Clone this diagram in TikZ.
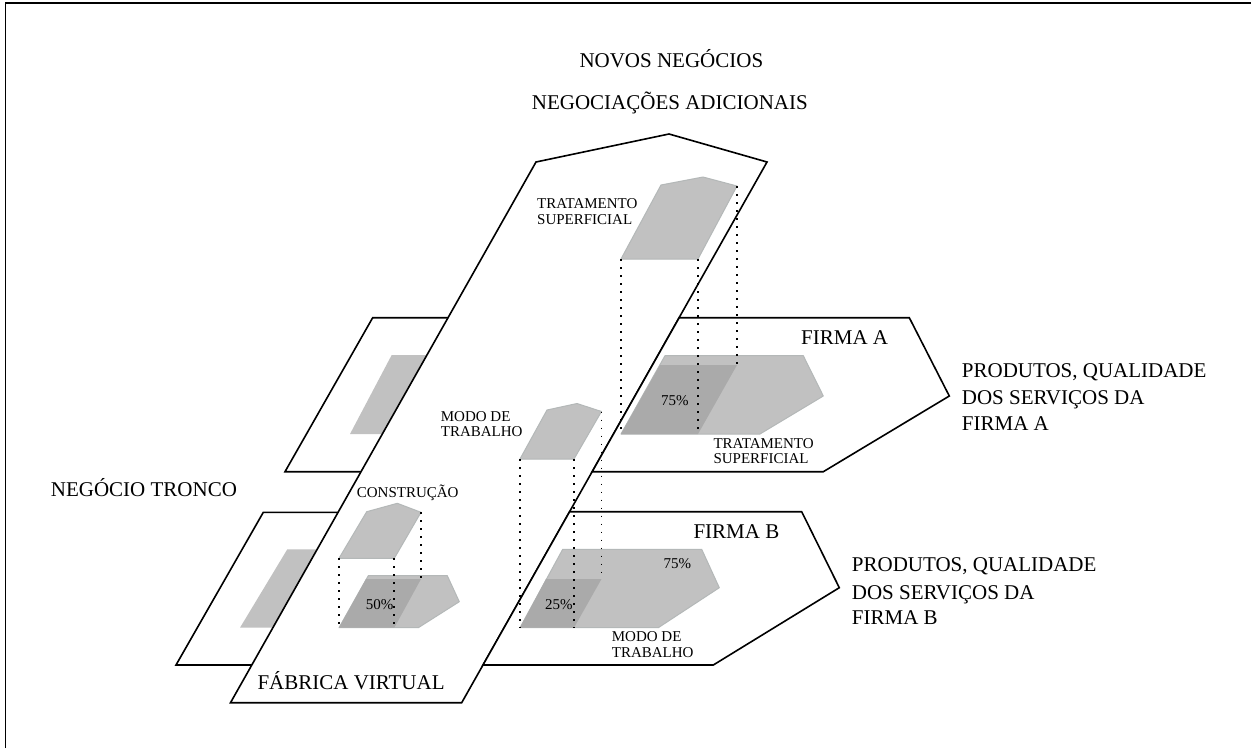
\documentclass[tikz,border=0pt]{standalone}
\usepackage{fontspec}
\setmainfont{Liberation Serif}
\definecolor{lg}{RGB}{193,193,193}
\definecolor{dg}{RGB}{170,170,170}
\definecolor{gb}{RGB}{180,184,184}
\begin{document}
\begin{tikzpicture}[x=1pt,y=-1pt,
  plane/.style={draw=black,fill=white,line width=1.6pt,line join=miter},
  lgray/.style={fill=lg,draw=gb,line width=1pt,line join=round},
  dgray/.style={fill=dg},
  dots/.style={line width=1.8pt,dash pattern=on 1.8pt off 6.2pt},
  big/.style={font=\fontsize{21}{25}\selectfont,anchor=base west,inner sep=0pt},
  small/.style={font=\fontsize{15}{16}\selectfont,anchor=base west,inner sep=0pt}]
\useasboundingbox (0,0) rectangle (1251,748);
% frame
\draw[line width=1.7pt] (5.5,748) -- (5.5,3) -- (1251,3);

% back planes (negocio tronco)
\draw[plane] (372.7,317.7) -- (522,317.7) -- (435,471.7) -- (285,471.7) -- cycle;
\fill[lg] (391.7,355) -- (452,355) -- (410,434) -- (350,434) -- cycle;
\draw[plane] (263.3,512.3) -- (413,512.3) -- (326,665) -- (176,665) -- cycle;
\fill[lg] (287.3,549.3) -- (347,549.3) -- (300,627.7) -- (240,627.7) -- cycle;

% fabrica virtual
\draw[plane] (536,162) -- (669,134) -- (767,162) -- (461.7,702.7) -- (230.5,702.7) -- cycle;

% firms
\draw[plane] (679.2,317.7) -- (909.3,317.7) -- (949.3,396) -- (823.3,471.7) -- (592.2,471.7) -- cycle;
\draw[plane] (569.6,511.7) -- (801.7,511.7) -- (839.3,587.7) -- (713.3,665) -- (483,665) -- cycle;

% gray shapes on fabrica virtual
\draw[lgray] (621,259) coordinate (t1) -- (698,259) coordinate (t2) -- (737,186) coordinate (t3) -- (703,177) -- (661,185) -- cycle;
\draw[lgray] (520,459) coordinate (m1) -- (574,459) coordinate (m2) -- (601.5,411.5) coordinate (m3) -- (577,403.5) -- (547,410) -- cycle;
\draw[lgray] (339,558.3) coordinate (c1) -- (394.3,558.3) coordinate (c2) -- (421,512.3) coordinate (c3) -- (397.3,503.3) -- (366.7,511.7) -- cycle;
\draw[lgray] (339,627.7) -- (368.3,575.7) -- (447.3,575.7) -- (459.3,601.7) -- (418.3,627.7) -- cycle;
\fill[dgray] (339,627.7) coordinate (c4) -- (394.3,627.7) coordinate (c5) -- (421,579) coordinate (c6) -- (366,579) -- cycle;

% gray shapes on firm A
\draw[lgray] (621,434) -- (665,355.7) -- (803.3,355.7) -- (823.3,396) -- (760,434) -- cycle;
\fill[dgray] (621,434) coordinate (a1) -- (698,434) coordinate (a2) -- (737,365) coordinate (a3) -- (660,365) -- cycle;

% gray shapes on firm B
\draw[lgray] (520,627.7) -- (562.7,549.3) -- (701.7,549.3) -- (719.3,587.7) -- (658.3,627.7) -- cycle;
\fill[dgray] (520,627.7) coordinate (b1) -- (574,627.7) coordinate (b2) -- (601.5,579) coordinate (b3) -- (546,579) -- cycle;

% dotted projections
\draw[dots] (t1) -- (a1);
\draw[dots] (t2) -- (a2);
\draw[dots] (t3) -- (a3);
\draw[dots] (m1) -- (b1);
\draw[dots] (m2) -- (b2);
\draw[dots] (m3) -- (b3);
\draw[dots] (c1) -- (c4);
\draw[dots] (c2) -- (c5);
\draw[dots] (c3) -- (c6);

% texts
\node[big] (novos) at (579.3,67.5) {NOVOS NEGÓCIOS};
\node[big] (negoc) at (531.7,109.3) {NEGOCIAÇÕES ADICIONAIS};
\node[big] (tronco) at (50.7,496.7) {NEGÓCIO TRONCO};
\node[big] (fabrica) at (257.3,689.3) {FÁBRICA VIRTUAL};
\node[big] (firmaA) at (801,344) {FIRMA A};
\node[big] (firmaB) at (693.3,538.3) {FIRMA B};
\node[big] (pa1) at (961.7,377.7) {PRODUTOS, QUALIDADE};
\node[big] (pa2) at (961.7,404.3) {DOS SERVIÇOS DA};
\node[big] (pa3) at (961.7,430) {FIRMA A};
\node[big] (pb1) at (851.7,571.7) {PRODUTOS, QUALIDADE};
\node[big] (pb2) at (851.7,599) {DOS SERVIÇOS DA};
\node[big] (pb3) at (851.7,624.3) {FIRMA B};

\node[small] (ts1) at (537,208) {TRATAMENTO};
\node[small] (ts2) at (537,224.5) {SUPERFICIAL};
\node[small] (tsa1) at (713.3,448.3) {TRATAMENTO};
\node[small] (tsa2) at (713.3,463.8) {SUPERFICIAL};
\node[small] (mt1) at (440.7,421.7) {MODO DE};
\node[small] (mt2) at (440.7,436.5) {TRABALHO};
\node[small] (mtb1) at (611.7,641) {MODO DE};
\node[small] (mtb2) at (611.7,657.5) {TRABALHO};
\node[small] (constr) at (356.7,497.3) {CONSTRUÇÃO};
\node[small] (p75a) at (661,405) {75\%};
\node[small] (p50) at (365.7,609.3) {50\%};
\node[small] (p25) at (545,609.3) {25\%};
\node[small] (p75b) at (663.3,568.3) {75\%};
\end{tikzpicture}
\end{document}
